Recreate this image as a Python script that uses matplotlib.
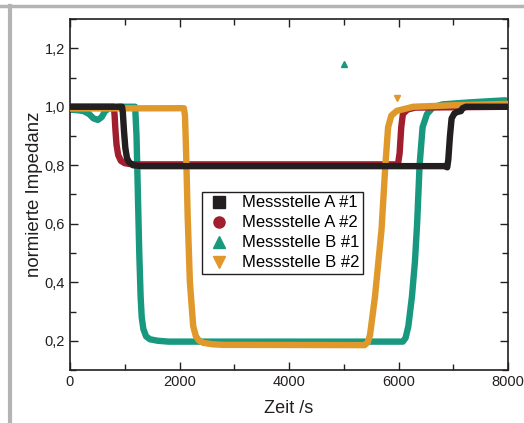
import matplotlib
matplotlib.use("Agg")
import matplotlib.pyplot as plt
from matplotlib.lines import Line2D
from matplotlib.ticker import MultipleLocator, FuncFormatter

plt.rcParams['font.family'] = ['Liberation Sans', 'DejaVu Sans']

# --- data ---
t_a1 = [0, 950, 965, 985, 1010, 1040, 1080, 1150, 1300, 3000, 6850, 6890, 6910, 6940, 6970, 7020, 7070, 7140, 7170, 7230, 8000]
v_a1 = [1.0, 1.0, 0.98, 0.92, 0.86, 0.825, 0.81, 0.80, 0.797, 0.797, 0.797, 0.793, 0.82, 0.90, 0.96, 0.977, 0.982, 0.985, 0.995, 1.0, 1.0]

t_a2 = [0, 800, 815, 830, 850, 880, 930, 1000, 1100, 1300, 5990, 6020, 6050, 6080, 6160, 6300, 8000]
v_a2 = [1.0, 1.0, 0.97, 0.92, 0.87, 0.835, 0.815, 0.807, 0.804, 0.803, 0.803, 0.84, 0.93, 0.975, 0.99, 0.997, 1.0]

t_b1 = [0, 150, 250, 350, 430, 510, 580, 640, 720, 900, 1190, 1215, 1240, 1265, 1290, 1310, 1340, 1390, 1460, 1600, 1800,
        6080, 6130, 6180, 6245, 6300, 6340, 6385, 6440, 6520, 6630, 6800, 7300, 7950]
v_b1 = [0.99, 0.988, 0.985, 0.975, 0.96, 0.955, 0.965, 0.985, 0.995, 1.0, 1.0, 0.9, 0.7, 0.5, 0.35, 0.28, 0.24, 0.215, 0.205, 0.2, 0.197,
        0.197, 0.21, 0.25, 0.35, 0.47, 0.6, 0.8, 0.93, 0.975, 0.998, 1.008, 1.015, 1.022]

t_b2 = [0, 2080, 2100, 2120, 2150, 2190, 2250, 2300, 2360, 2430, 2600, 2800, 5380,
        5440, 5480, 5570, 5690, 5760, 5810, 5870, 5970, 6270, 7000, 8000]
v_b2 = [0.994, 0.995, 0.97, 0.85, 0.62, 0.4, 0.25, 0.215, 0.2, 0.193, 0.188, 0.186, 0.185,
        0.195, 0.22, 0.35, 0.58, 0.8, 0.93, 0.97, 0.986, 1.0, 1.005, 1.01]

out_b1_t = [5000]
out_b1_v = [1.147]
out_b2_t = [5970]
out_b2_v = [1.03]

labels = ['Messstelle A #1', 'Messstelle A #2', 'Messstelle B #1', 'Messstelle B #2']
colors = ['#231f20', '#a01e2d', '#18997f', '#e0982a']
markers = ['s', 'o', '^', 'v']

fig = plt.figure(figsize=(5.24, 4.23), dpi=100)
ax = fig.add_axes([70/524, 53/423, 438/524, 351/423])

lw = 4.6
kw = dict(lw=lw, solid_joinstyle='round', solid_capstyle='round')
ax.plot(t_b1, v_b1, color=colors[2], zorder=2, **kw)
ax.plot(t_a2, v_a2, color=colors[1], zorder=3, **kw)
ax.plot(t_b2, v_b2, color=colors[3], zorder=4, **kw)
ax.plot(t_a1, v_a1, color=colors[0], zorder=5, **kw)
ax.plot(out_b1_t, out_b1_v, ls='none', marker='^', ms=5, color=colors[2])
ax.plot(out_b2_t, out_b2_v, ls='none', marker='v', ms=5, color=colors[3])

ax.set_xlim(0, 8000)
ax.set_ylim(0.1, 1.3)
ax.xaxis.set_major_locator(MultipleLocator(2000))
ax.xaxis.set_minor_locator(MultipleLocator(1000))
ax.yaxis.set_major_locator(MultipleLocator(0.2))
ax.yaxis.set_minor_locator(MultipleLocator(0.1))
ax.yaxis.set_major_formatter(FuncFormatter(lambda v, p: f"{v:.1f}".replace('.', ',')))
ax.tick_params(which='both', direction='in', top=True, right=True, colors='#231f20',
               labelsize=10.5, width=1.0)
ax.tick_params(which='major', length=6)
ax.tick_params(which='minor', length=4)
for s in ax.spines.values():
    s.set_linewidth(1.2)
    s.set_color('#231f20')

ax.set_xlabel('Zeit /s', fontsize=13, color='#231f20', labelpad=8)
ax.set_ylabel('normierte Impedanz', fontsize=13.4, color='#231f20', labelpad=1)

handles = [Line2D([], [], ls='none', marker=m, color=c, ms=8) for m, c in zip(markers, colors)]
leg = ax.legend(handles, labels, loc='upper left', bbox_to_anchor=(0.301, 0.507), fontsize=12,
                frameon=True, fancybox=False, edgecolor='#231f20', framealpha=1,
                borderpad=0.2, handletextpad=0.6, labelspacing=0.3, handlelength=1.6,
                borderaxespad=0)
leg.get_frame().set_linewidth(1.0)

# outer gray frame
fig.add_artist(Line2D([0, 1], [1 - 6/423, 1 - 6/423], color='#b4b4b4', lw=2.5, transform=fig.transFigure))
fig.add_artist(Line2D([10/524, 10/524], [0, 1 - 6/423], color='#b4b4b4', lw=3, transform=fig.transFigure))

fig.savefig('out.png', dpi=100)
